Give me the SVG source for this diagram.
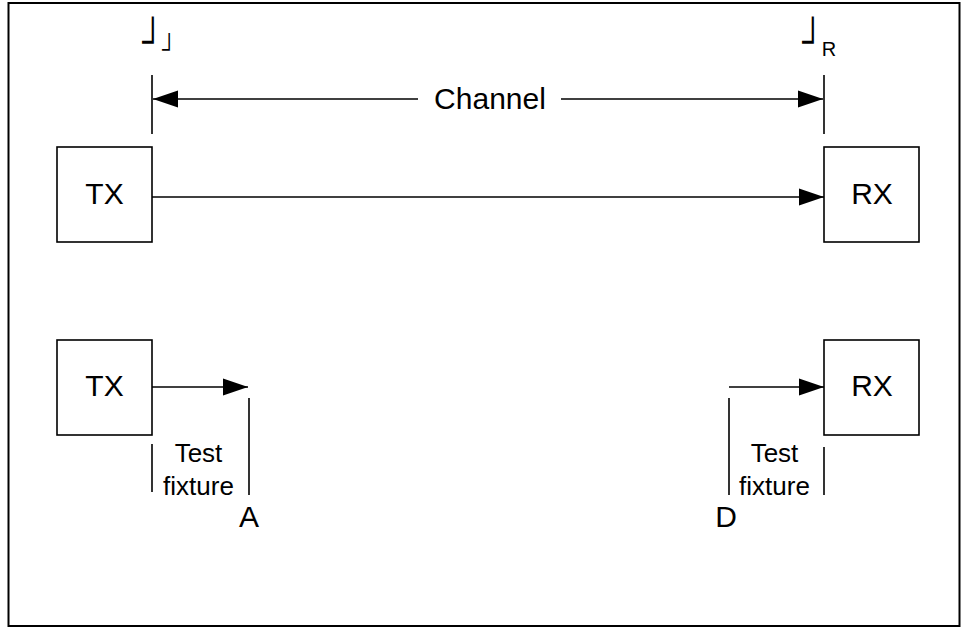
<svg xmlns="http://www.w3.org/2000/svg" width="963" height="628" viewBox="0 0 963 628">
<style>
.box{fill:#fff;stroke:#000;stroke-width:1.6}
.ln{stroke:#000;stroke-width:1.6;fill:none}
.big{font-family:"Liberation Sans",Arial,sans-serif;font-size:30px;fill:#000;text-anchor:middle}
.mid{font-family:"Liberation Sans",Arial,sans-serif;font-size:26px;fill:#000;text-anchor:middle}
.sym{font-family:"DejaVu Sans",sans-serif;font-weight:200;fill:#000}
</style>
<defs>
<marker id="ah" markerUnits="userSpaceOnUse" markerWidth="26" markerHeight="18" viewBox="0 0 26 18" refX="25" refY="9" orient="auto">
<path d="M0,0.5 L25,9 L0,17.5 Z" fill="#000"/>
</marker>
</defs>
<rect x="8.5" y="3" width="951" height="623" fill="#fff" stroke="#000" stroke-width="2"/>
<g id="labels-top">
<text class="sym" transform="translate(142,39) scale(1,1.42)" x="0" y="11" font-size="30">┘</text>
<text class="sym" transform="translate(162,48) scale(1,1.38)" x="0" y="7.3" font-size="20" fill="#555">┘</text>
<text class="sym" transform="translate(802,39) scale(1,1.42)" x="0" y="11" font-size="30">┘</text>
<text x="829" y="56" font-family="Liberation Sans,Arial,sans-serif" font-size="20" text-anchor="middle">R</text>
</g>
<g id="tx1"><rect class="box" x="57" y="147" width="95" height="95"/><text class="big" x="104.5" y="204">TX</text></g>
<g id="rx1"><rect class="box" x="824" y="147" width="95" height="95"/><text class="big" x="872" y="204">RX</text></g>
<g id="tx2"><rect class="box" x="57" y="340" width="95" height="95"/><text class="big" x="104.5" y="396">TX</text></g>
<g id="rx2"><rect class="box" x="824" y="340" width="95" height="95"/><text class="big" x="872" y="396">RX</text></g>
<g id="channel-label"><text class="big" x="490" y="109">Channel</text></g>
<g id="fixture-left"><text class="mid" x="198.5" y="462">Test</text><text class="mid" x="198.5" y="495">fixture</text><text class="big" x="249" y="527">A</text></g>
<g id="fixture-right"><text class="mid" x="774.5" y="462">Test</text><text class="mid" x="774.5" y="495">fixture</text><text class="big" x="726" y="527">D</text></g>
<g id="connectors">
<line class="ln" x1="152" y1="75" x2="152" y2="134"/>
<line class="ln" x1="824" y1="75" x2="824" y2="134"/>
<line class="ln" x1="418" y1="99" x2="153" y2="99" marker-end="url(#ah)"/>
<line class="ln" x1="561" y1="99" x2="823" y2="99" marker-end="url(#ah)"/>
<line class="ln" x1="152" y1="197" x2="824" y2="197" marker-end="url(#ah)"/>
<line class="ln" x1="152" y1="387" x2="248" y2="387" marker-end="url(#ah)"/>
<line class="ln" x1="729" y1="387" x2="824" y2="387" marker-end="url(#ah)"/>
<line class="ln" x1="249" y1="398" x2="249" y2="495"/>
<line class="ln" x1="152" y1="444" x2="152" y2="492"/>
<line class="ln" x1="729" y1="398" x2="729" y2="495"/>
<line class="ln" x1="824" y1="447" x2="824" y2="495"/>
</g>
</svg>
